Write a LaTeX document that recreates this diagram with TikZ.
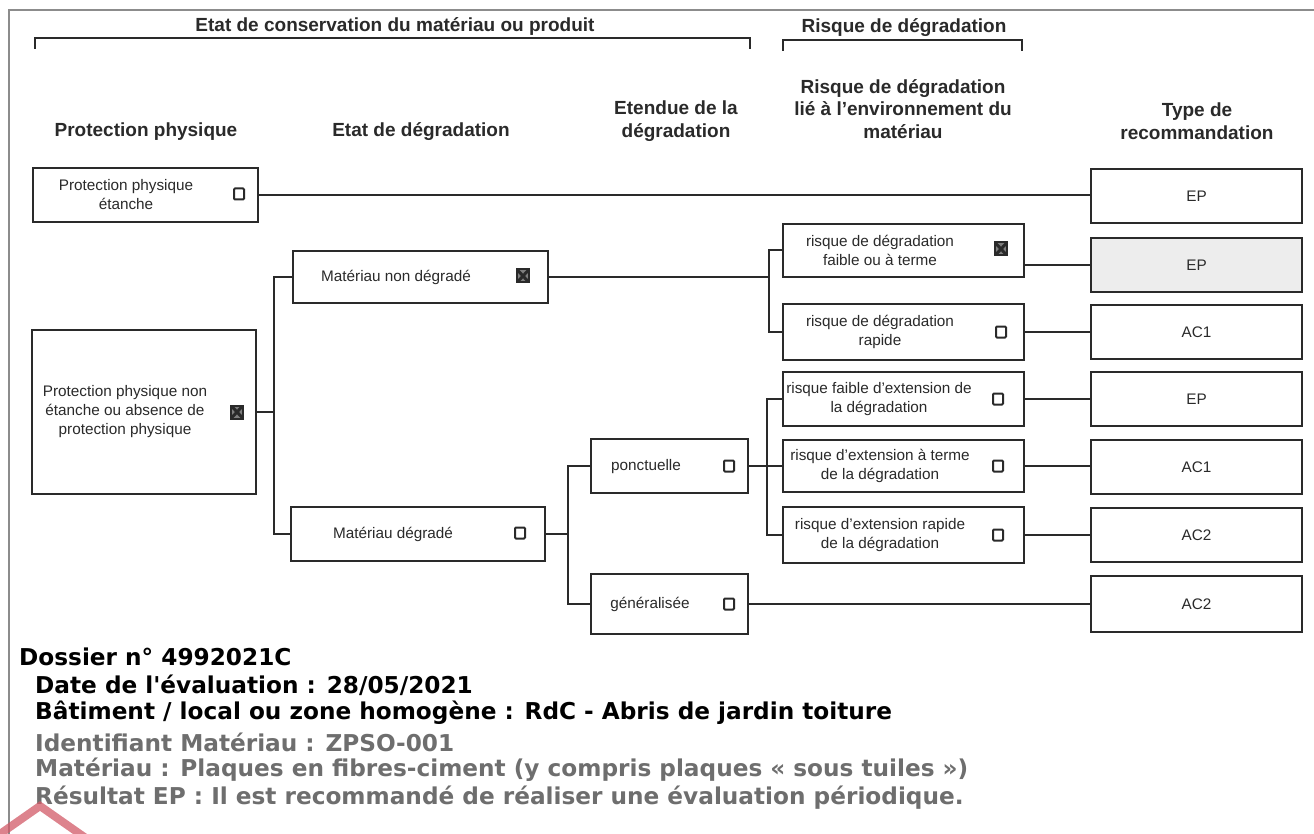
\documentclass[tikz,border=0pt]{standalone}
\usepackage{fontspec}
\setmainfont{Liberation Sans}
\newfontfamily\vfont{DejaVu Sans}
\usetikzlibrary{fit}
\definecolor{ink}{HTML}{2A2A2A}
\definecolor{frm}{HTML}{8C8C8C}
\definecolor{gtxt}{HTML}{6E6E6E}
\definecolor{wm}{HTML}{D25A68}
\definecolor{shade}{HTML}{EDEDED}
\begin{document}
\begin{tikzpicture}[x=1pt,y=-1pt,
  box/.style={draw=ink, line width=1.7pt, inner sep=0pt},
  lbl/.style={font=\fontsize{15.3}{19}\selectfont, text=ink, align=center, inner sep=0pt},
  hdr/.style={font=\bfseries\fontsize{19}{22.5}\selectfont, text=ink, align=center, inner sep=0pt},
  chk/.style={draw=ink, line width=2pt, minimum width=10pt, minimum height=11pt, inner sep=0pt, rounded corners=1pt},
  chkx/.style={draw=ink, line width=2pt, minimum width=12pt, minimum height=13pt, inner sep=0pt, fill=ink!60,
    path picture={\draw[ink, line width=3pt] (path picture bounding box.south west) -- (path picture bounding box.north east)
      (path picture bounding box.north west) -- (path picture bounding box.south east);}},
  wire/.style={draw=ink, line width=2pt},
  info/.style={font=\vfont\bfseries\fontsize{23.2}{28}\selectfont, anchor=west, inner sep=0pt}
]
\useasboundingbox (0,0) rectangle (1314,834);
\fill[white] (0,0) rectangle (1314,834);

% frame
\draw[frm, line width=1.3pt] (9,834) -- (9,10) -- (1314,10);

% titles and brackets
\node[hdr] (titA) at (395,27) {Etat de conservation du matériau ou produit};
\node[hdr] (titB) at (904,28) {Risque de dégradation};
\draw[ink, line width=1.6pt] (35,49) -- (35,38) -- (750,38) -- (750,49);
\draw[ink, line width=1.6pt] (783,51) -- (783,40) -- (1022,40) -- (1022,51);

% column headers
\node[hdr] (h1) at (146,132) {Protection physique};
\node[hdr] (h2) at (421,132) {Etat de dégradation};
\node[hdr] (h3) at (676,121) {Etendue de la\\dégradation};
\node[hdr] (h4) at (903,109) {Risque de dégradation\\lié à l'environnement du\\matériau};
\node[hdr] (h5) at (1197,121) {Type de\\recommandation};

% column 1
\node[box, fit={(33,168) (258,222)}] (ppe) {};
\node[lbl] (ppet) at (126,195) {Protection physique\\étanche};
\node[chk] (ppec) at (239,194) {};

\node[box, fit={(32,330) (256,494)}] (ppn) {};
\node[lbl] (ppnt) at (125,412) {Protection physique non\\étanche ou absence de\\protection physique};
\node[chkx] (ppnc) at (237,412) {};

% column 2
\node[box, fit={(293,251) (548,303)}] (mnd) {};
\node[lbl] (mndt) at (396,277) {Matériau non dégradé};
\node[chkx] (mndc) at (523,276) {};

\node[box, fit={(291,507) (545,561)}] (md) {};
\node[lbl] (mdt) at (393,534) {Matériau dégradé};
\node[chk] (mdc) at (520,533) {};

% column 3
\node[box, fit={(591,439) (748,493)}] (pon) {};
\node[lbl] (pont) at (646,467) {ponctuelle};
\node[chk] (ponc) at (729,466) {};

\node[box, fit={(591,574) (748,634)}] (gen) {};
\node[lbl] (gent) at (650,604) {généralisée};
\node[chk] (genc) at (729,604) {};

% column 4
\node[box, fit={(783,224) (1024,277)}] (r1) {};
\node[lbl] (r1t) at (880,250) {risque de dégradation\\faible ou à terme};
\node[chkx] (r1c) at (1001,249) {};

\node[box, fit={(783,304) (1024,360)}] (r2) {};
\node[lbl] (r2t) at (880,332) {risque de dégradation\\rapide};
\node[chk] (r2c) at (1001,332) {};

\node[box, fit={(783,372) (1024,426)}] (r3) {};
\node[lbl] (r3t) at (879,399) {risque faible d'extension de\\la dégradation};
\node[chk] (r3c) at (998,399) {};

\node[box, fit={(783,440) (1024,492)}] (r4) {};
\node[lbl] (r4t) at (880,466) {risque d'extension à terme\\de la dégradation};
\node[chk] (r4c) at (998,466) {};

\node[box, fit={(783,507) (1024,563)}] (r5) {};
\node[lbl] (r5t) at (880,535) {risque d'extension rapide\\de la dégradation};
\node[chk] (r5c) at (998,535) {};

% column 5
\node[box, fit={(1091,169) (1302,223)}] (t1) {};
\node[lbl] (t1t) at (t1.center) {EP};
\node[box, fill=shade, fit={(1091,238) (1302,292)}] (t2) {};
\node[lbl] (t2t) at (t2.center) {EP};
\node[box, fit={(1091,305) (1302,359)}] (t3) {};
\node[lbl] (t3t) at (t3.center) {AC1};
\node[box, fit={(1091,372) (1302,426)}] (t4) {};
\node[lbl] (t4t) at (t4.center) {EP};
\node[box, fit={(1091,440) (1302,494)}] (t5) {};
\node[lbl] (t5t) at (t5.center) {AC1};
\node[box, fit={(1091,508) (1302,562)}] (t6) {};
\node[lbl] (t6t) at (t6.center) {AC2};
\node[box, fit={(1091,576) (1302,632)}] (t7) {};
\node[lbl] (t7t) at (t7.center) {AC2};

% connectors
\draw[wire] (ppe.east) -- (ppe.east -| t1.west);
\coordinate (j1) at (274,412);
\draw[wire] (ppn.east) -- (j1);
\draw[wire] (mnd.west) -| (j1) |- (md.west);
\coordinate (j2) at (769,277);
\draw[wire] (mnd.east) -- (j2);
\draw[wire] (r1.west) -| (j2) |- (r2.west);
\draw[wire] (r1.east |- t2.west) -- (t2.west);
\draw[wire] (r2.east) -- (r2.east -| t3.west);
\coordinate (j3) at (568,534);
\draw[wire] (md.east) -- (j3);
\draw[wire] (pon.west) -| (j3) |- (gen.west);
\coordinate (j4) at (767,466);
\draw[wire] (pon.east) -- (j4);
\draw[wire] (r3.west) -| (j4) |- (r5.west);
\draw[wire] (j4) -- (r4.west);
\draw[wire] (r3.east) -- (r3.east -| t4.west);
\draw[wire] (r4.east) -- (r4.east -| t5.west);
\draw[wire] (r5.east) -- (r5.east -| t6.west);
\draw[wire] (gen.east) -- (gen.east -| t7.west);

% info text
\node[info, text=black] (i1) at (19,657) {Dossier n° 4992021C};
\node[info, text=black] (i2) at (35,685) {Date de l'évaluation : 28/05/2021};
\node[info, text=black] (i3) at (35,713) {Bâtiment / local ou zone homogène : RdC - Abris de jardin toiture};
\node[info, text=gtxt] (i4) at (35,742) {Identifiant Matériau : ZPSO-001};
\node[info, text=gtxt] (i5) at (35,770) {Matériau : Plaques en fibres-ciment (y compris plaques « sous tuiles »)};
\node[info, text=gtxt] (i6) at (35,798) {Résultat EP : Il est recommandé de réaliser une évaluation périodique.};

% watermark
\draw[wm, line width=8pt, opacity=0.75, line join=miter] (-20,848) -- (40,806) -- (110,855);
\end{tikzpicture}
\end{document}
